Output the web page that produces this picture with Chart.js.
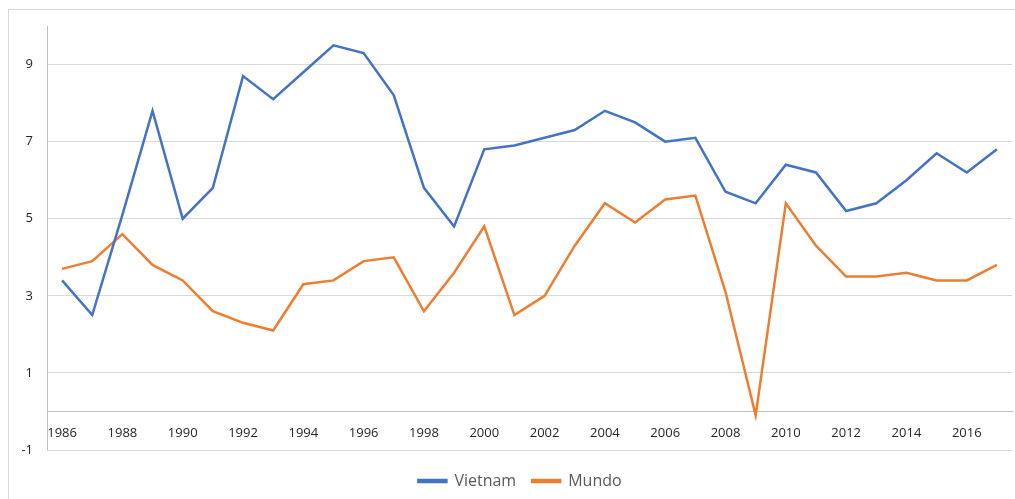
<!DOCTYPE html>
<html>
<head>
<meta charset="utf-8">
<script src="https://cdn.jsdelivr.net/npm/chart.js@4"></script>
<style>
  html, body { margin: 0; padding: 0; background: #fff; }
  #wrap { position: relative; width: 1015px; height: 499px; }
</style>
</head>
<body>
<div id="wrap"><canvas id="chart"></canvas></div>
<script>
// data
const years = [];
for (let y = 1986; y <= 2017; y++) years.push(String(y));
const vietnam = [3.4, 2.5, 5.1, 7.8, 5.0, 5.8, 8.7, 8.1, 8.8, 9.5, 9.3, 8.2, 5.8, 4.8, 6.8, 6.9,
                 7.1, 7.3, 7.8, 7.5, 7.0, 7.1, 5.7, 5.4, 6.4, 6.2, 5.2, 5.4, 6.0, 6.7, 6.2, 6.8];
const mundo = [3.7, 3.9, 4.6, 3.8, 3.4, 2.6, 2.3, 2.1, 3.3, 3.4, 3.9, 4.0, 2.6, 3.6, 4.8, 2.5,
               3.0, 4.3, 5.4, 4.9, 5.5, 5.6, 3.1, -0.1, 5.4, 4.3, 3.5, 3.5, 3.6, 3.4, 3.4, 3.8];
const yTicks = [-1, 1, 3, 5, 7, 9];

// light frame round the whole chart, plus the bottom gridline at the y minimum
const framePlugin = {
    id: 'frame',
    afterLayout(chart) {
        // legend sits centred on the frame and a little lower
        const lg = chart.legend;
        lg.left += 14;
        lg.right += 14;
        lg.top += 7;
        lg.bottom += 7;
    },
    beforeDraw(chart) {
        const c = chart.ctx;
        c.save();
        c.strokeStyle = '#d9d9d9';
        c.lineWidth = 1;
        c.strokeRect(8.5, 9.5, 1100, 600);
        c.restore();
    },
    beforeDatasetsDraw(chart) {
        const c = chart.ctx;
        const y = Math.round(chart.scales.y.getPixelForValue(yTicks[0])) + 0.5;
        c.save();
        c.strokeStyle = '#d9d9d9';
        c.lineWidth = 1;
        c.beginPath();
        c.moveTo(chart.chartArea.left, y);
        c.lineTo(chart.chartArea.right, y);
        c.stroke();
        c.restore();
    }
};

const ctx = document.getElementById('chart').getContext('2d');
new Chart(ctx, {
    type: 'line',
    data: {
        labels: years,
        datasets: [{
            label: 'Vietnam',
            data: vietnam,
            borderColor: '#4472C4',
            backgroundColor: '#4472C4',
            borderWidth: 2.5,
            pointRadius: 0,
            tension: 0
        }, {
            label: 'Mundo',
            data: mundo,
            borderColor: '#ED7D31',
            backgroundColor: '#ED7D31',
            borderWidth: 2.5,
            pointRadius: 0,
            tension: 0
        }]
    },
    options: {
        responsive: true,
        maintainAspectRatio: false,
        animation: false,
        layout: {
            padding: { top: 26, right: 3, left: 0, bottom: 7 }
        },
        plugins: {
            tooltip: { enabled: false },
            legend: {
                position: 'bottom',
                labels: {
                    boxWidth: 28,
                    boxHeight: 2,
                    padding: 16,
                    color: '#595959',
                    font: { family: 'Open Sans', size: 16 }
                }
            }
        },
        scales: {
            x: {
                position: { y: 0 },
                offset: true,
                grid: { display: false },
                border: { display: true, color: '#bfbfbf', width: 1 },
                ticks: {
                    autoSkip: false,
                    maxRotation: 0,
                    padding: 6,
                    color: '#262626',
                    font: { family: 'Open Sans', size: 13 },
                    callback: function(val, i) {
                        return i % 2 === 0 ? years[i] : '';
                    }
                }
            },
            y: {
                min: -1,
                max: 10,
                afterBuildTicks: scale => {
                    scale.ticks = yTicks.map(v => ({ value: v }));
                },
                afterFit: scale => { scale.width = 47; },
                grid: { color: '#d9d9d9', drawTicks: false },
                border: { display: true, color: '#bfbfbf' },
                ticks: {
                    padding: 14,
                    color: '#262626',
                    font: { family: 'Open Sans', size: 13 }
                }
            }
        }
    },
    plugins: [framePlugin]
});
</script>
</body>
</html>
